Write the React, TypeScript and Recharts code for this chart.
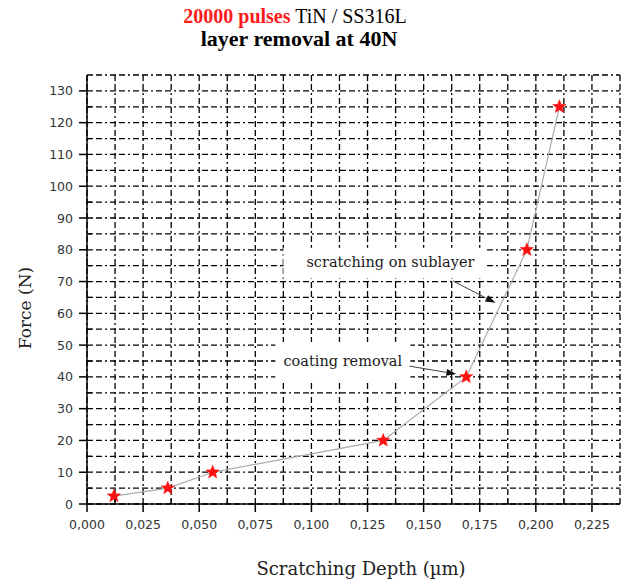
import React from 'react';
import { ComposedChart, Line, XAxis, YAxis, CartesianGrid, ReferenceArea, ReferenceLine, ReferenceDot } from 'recharts';

const depth = [0.012, 0.036, 0.056, 0.132, 0.169, 0.196, 0.2105];
const force = [2.5, 5, 10, 20, 40, 80, 125];

const xTicks = [0, 0.0125, 0.025, 0.0375, 0.05, 0.0625, 0.075, 0.0875, 0.1, 0.1125, 0.125, 0.1375, 0.15, 0.1625, 0.175, 0.1875, 0.2, 0.2125, 0.225];
const xMajor = [0, 0.025, 0.05, 0.075, 0.1, 0.125, 0.15, 0.175, 0.2, 0.225];
const yTicks = [0, 5, 10, 15, 20, 25, 30, 35, 40, 45, 50, 55, 60, 65, 70, 75, 80, 85, 90, 95, 100, 105, 110, 115, 120, 125, 130];
const yMajor = [0, 10, 20, 30, 40, 50, 60, 70, 80, 90, 100, 110, 120, 130];

const notes = [
  { text: 'scratching on sublayer', tx: 0.1352, ty: 76, x1: 0.0875, x2: 0.177, y1: 71, y2: 80.6, ax1: 0.163, ay1: 70.2, ax2: 0.182, ay2: 63.3 },
  { text: 'coating removal', tx: 0.114, ty: 45.1, x1: 0.0839, x2: 0.1441, y1: 38.7, y2: 51, ax1: 0.1436, ay1: 43.4, ax2: 0.1646, ay2: 40.9 },
];

const data = depth.map((d, i) => ({ depth: d, force: force[i] }));

const isMajor = (arr: number[], v: number) => arr.some((m) => Math.abs(m - v) < 1e-6);

const XTick = (props: any) => {
  const { x, y, payload } = props;
  const major = isMajor(xMajor, payload.value);
  return (
    <g>
      {major ? (
        <line x1={x} x2={x} y1={y} y2={y + 8} stroke="#000" strokeWidth={1.5} />
      ) : (
        <line x1={x} x2={x} y1={y} y2={y - 5} stroke="#000" strokeWidth={1.2} />
      )}
      {major && (
        <text x={x} y={y + 25} textAnchor="middle" fontFamily="DejaVu Sans" fontSize={12.5} fill="#333">
          {payload.value.toFixed(3).replace('.', ',')}
        </text>
      )}
    </g>
  );
};

const YTick = (props: any) => {
  const { x, y, payload } = props;
  const major = isMajor(yMajor, payload.value);
  return (
    <g>
      {major ? (
        <line x1={x} x2={x - 8} y1={y} y2={y} stroke="#000" strokeWidth={1.5} />
      ) : (
        <line x1={x} x2={x + 5} y1={y} y2={y} stroke="#000" strokeWidth={1.2} />
      )}
      {major && (
        <text x={x - 14} y={y + 4.5} textAnchor="end" fontFamily="DejaVu Sans" fontSize={12.5} fill="#333">
          {payload.value}
        </text>
      )}
    </g>
  );
};

const Star = (props: any) => {
  const { cx, cy } = props;
  if (cx == null || cy == null) return null;
  const pts: string[] = [];
  for (let i = 0; i < 10; i++) {
    const r = i % 2 === 0 ? 7 : 3;
    const a = -Math.PI / 2 + (i * Math.PI) / 5;
    pts.push(`${cx + r * Math.cos(a)},${cy + r * Math.sin(a)}`);
  }
  return <polygon points={pts.join(' ')} fill="#ff1010" stroke="#ff1010" strokeWidth={0.5} />;
};

const Arrow = (props: any) => {
  const { x1, y1, x2, y2 } = props;
  if ([x1, y1, x2, y2].some((v) => v == null || isNaN(v))) return null;
  const dx = x2 - x1;
  const dy = y2 - y1;
  const len = Math.sqrt(dx * dx + dy * dy);
  const ux = dx / len;
  const uy = dy / len;
  const hl = 10;
  const hw = 3.5;
  const bx = x2 - ux * hl;
  const by = y2 - uy * hl;
  return (
    <g>
      <line x1={x1} y1={y1} x2={bx} y2={by} stroke="#444" strokeWidth={1} />
      <polygon points={`${x2},${y2} ${bx - uy * hw},${by + ux * hw} ${bx + uy * hw},${by - ux * hw}`} fill="#111" />
    </g>
  );
};

const NoteText = (text: string) => (props: any) => {
  const { cx, cy } = props;
  if (cx == null || cy == null) return null;
  return (
    <text x={cx} y={cy + 5} textAnchor="middle" fontFamily="DejaVu Serif" fontSize={14.5} fill="#1a1a1a" style={{ fontSize: 14.5 }}>
      {text}
    </text>
  );
};

export default function App() {
  return (
    <div style={{ position: 'absolute', left: 0, top: 0, width: 625, height: 581, background: '#fff' }}>
      <div style={{ position: 'absolute', top: 6, left: 295, transform: 'translateX(-50%)', whiteSpace: 'nowrap', fontFamily: 'Liberation Serif', fontSize: 20, lineHeight: '20px' }}>
        <span style={{ color: '#ff1a1a', fontWeight: 'bold' }}>20000 pulses</span> <span style={{ color: '#000' }}>TiN / SS316L</span>
      </div>
      <div style={{ position: 'absolute', top: 28, left: 299, transform: 'translateX(-50%)', whiteSpace: 'nowrap', fontFamily: 'Liberation Serif', fontSize: 22, lineHeight: '22px', fontWeight: 'bold', color: '#000' }}>
        layer removal at 40N
      </div>
      <ComposedChart width={625} height={581} data={data} margin={{ top: 75, right: 5, bottom: 47, left: 27 }}>
        <CartesianGrid stroke="#000" strokeWidth={1.3} strokeDasharray="6 3 6 3 2 3" />
        <XAxis
          dataKey="depth"
          type="number"
          domain={[0, 0.2375]}
          ticks={xTicks}
          interval={0}
          height={30}
          tickSize={0}
          tickMargin={0}
          tick={<XTick />}
          axisLine={{ stroke: '#000', strokeWidth: 1.5 }}
          tickLine={false}
          allowDataOverflow
        />
        <YAxis
          dataKey="force"
          type="number"
          domain={[0, 135]}
          ticks={yTicks}
          interval={0}
          width={60}
          tickSize={0}
          tickMargin={0}
          tick={<YTick />}
          axisLine={{ stroke: '#000', strokeWidth: 1.5 }}
          tickLine={false}
          allowDataOverflow
        />
        {notes.map((n) => (
          <ReferenceArea key={n.text} x1={n.x1} x2={n.x2} y1={n.y1} y2={n.y2} fill="#fff" fillOpacity={1} stroke="none" />
        ))}
        {notes.map((n) => (
          <ReferenceDot key={n.text + 't'} x={n.tx} y={n.ty} r={1} shape={NoteText(n.text)} />
        ))}
        {notes.map((n) => (
          <ReferenceLine
            key={n.text + 'a'}
            segment={[
              { x: n.ax1, y: n.ay1 },
              { x: n.ax2, y: n.ay2 },
            ]}
            shape={<Arrow />}
          />
        ))}
        <Line
          dataKey="force"
          type="linear"
          stroke="#aaa"
          strokeWidth={1.2}
          dot={<Star />}
          activeDot={false}
          isAnimationActive={false}
        />
      </ComposedChart>
      <div style={{ position: 'absolute', left: 361, top: 568, transform: 'translate(-50%, -50%)', fontFamily: 'DejaVu Serif', fontSize: 18, color: '#222', whiteSpace: 'nowrap' }}>
        Scratching Depth (µm)
      </div>
      <div style={{ position: 'absolute', left: 25, top: 308, transform: 'translate(-50%, -50%) rotate(-90deg)', fontFamily: 'DejaVu Serif', fontSize: 17, color: '#222', whiteSpace: 'nowrap' }}>
        Force (N)
      </div>
    </div>
  );
}
